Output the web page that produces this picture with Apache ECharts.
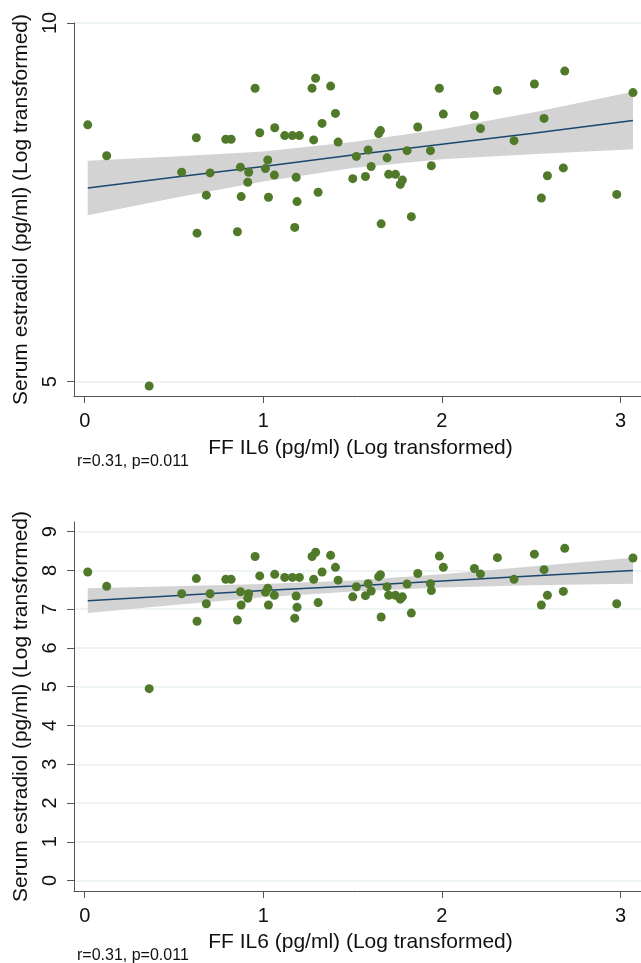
<!DOCTYPE html>
<html>
<head>
<meta charset="utf-8">
<title>Serum estradiol vs FF IL6</title>
<script src="https://cdn.jsdelivr.net/npm/echarts@6/dist/echarts.min.js"></script>
<style>
  html, body { margin: 0; padding: 0; background: #fff; }
  #main { width: 641px; height: 963px; }
</style>
</head>
<body>
<div id="main"></div>
<script>
// FF IL6 (log), same x for both panels
var il6 = [0.017, 0.123, 0.361, 0.543, 0.625, 0.629, 0.681, 0.702, 0.790, 0.820,
  0.855, 0.872, 0.876, 0.913, 0.918, 0.954, 0.980, 1.012, 1.025, 1.029,
  1.062, 1.064, 1.120, 1.163, 1.176, 1.184, 1.189, 1.202, 1.273, 1.282,
  1.293, 1.307, 1.329, 1.377, 1.404, 1.419, 1.501, 1.521, 1.572, 1.587,
  1.604, 1.646, 1.656, 1.660, 1.693, 1.702, 1.740, 1.767, 1.779, 1.805,
  1.829, 1.865, 1.936, 1.941, 1.986, 2.008, 2.182, 2.216, 2.311, 2.404,
  2.518, 2.557, 2.572, 2.591, 2.680, 2.688, 2.979, 3.070];

// serum estradiol as read on the top panel axis (5 - 10)
var estradiolTop = [8.58, 8.15, 4.94, 7.92, 8.40, 7.07, 7.60, 7.91, 8.38, 8.38,
  7.09, 7.99, 7.58, 7.78, 7.92, 9.09, 8.47, 7.97, 8.09, 7.57,
  7.88, 8.54, 8.43, 8.43, 7.15, 7.85, 7.51, 8.43, 9.09, 8.37,
  9.23, 7.64, 8.60, 9.12, 8.74, 8.34, 7.83, 8.14, 7.86, 8.23,
  8.00, 8.46, 8.50, 7.20, 8.12, 7.89, 7.89, 7.75, 7.81, 8.22,
  7.30, 8.55, 8.22, 8.01, 9.09, 8.73, 8.71, 8.53, 9.06, 8.36,
  9.15, 7.56, 8.67, 7.87, 7.98, 9.33, 7.61, 9.03];

// serum estradiol as read on the bottom panel axis (0 - 9)
var estradiolBottom = [7.96, 7.59, 4.95, 7.40, 7.79, 6.69, 7.14, 7.40, 7.77, 7.77,
  6.72, 7.45, 7.11, 7.28, 7.40, 8.36, 7.86, 7.44, 7.54, 7.11,
  7.36, 7.90, 7.82, 7.82, 6.77, 7.34, 7.05, 7.82, 8.36, 7.77,
  8.47, 7.17, 7.96, 8.39, 8.08, 7.75, 7.32, 7.58, 7.35, 7.66,
  7.47, 7.84, 7.89, 6.80, 7.58, 7.36, 7.36, 7.26, 7.32, 7.65,
  6.90, 7.92, 7.66, 7.48, 8.37, 8.08, 8.05, 7.91, 8.33, 7.77,
  8.42, 7.11, 8.02, 7.36, 7.46, 8.57, 7.14, 8.32];

// fitted line and 95% CI
var bandX = [0.017, 0.5, 1.0, 1.5, 2.0, 2.5, 3.07];
var fitTop = [7.70, 7.85, 8.00, 8.16, 8.31, 8.46, 8.64];
var upperTop = [8.08, 8.14, 8.21, 8.34, 8.52, 8.75, 9.04];
var lowerTop = [7.32, 7.56, 7.79, 7.98, 8.10, 8.17, 8.24];
var fitBottom = [7.22, 7.35, 7.48, 7.60, 7.73, 7.86, 8.00];
var upperBottom = [7.54, 7.59, 7.65, 7.74, 7.90, 8.10, 8.33];
var lowerBottom = [6.90, 7.11, 7.31, 7.46, 7.56, 7.62, 7.66];

var xTicks = [0, 1, 2, 3];
var yTicksTop = [5, 10];
var yTicksBottom = [0, 1, 2, 3, 4, 5, 6, 7, 8, 9];
var xTitle = "FF IL6 (pg/ml) (Log transformed)";
var yTitle = "Serum estradiol (pg/ml) (Log transformed)";
var statText = "r=0.31, p=0.011";

var FONT = "Liberation Sans, Arial, Helvetica, sans-serif";
var axisColor = "#555";

function pairs(xs, ys) {
  return xs.map(function (x, i) { return [x, ys[i]]; });
}

function makeXAxis(gridIndex, gap) {
  return {
    type: "value",
    gridIndex: gridIndex,
    min: -0.06,
    max: 3.115,
    name: xTitle,
    nameLocation: "middle",
    nameGap: gap,
    nameTextStyle: { fontFamily: FONT, fontSize: 21, color: "#111", padding: [0, 0, 0, 6] },
    axisLine: { show: true, onZero: false, lineStyle: { color: axisColor, width: 1 } },
    axisTick: { show: true, length: 7, customValues: xTicks, lineStyle: { color: axisColor } },
    axisLabel: { customValues: xTicks, margin: 15, fontFamily: FONT, fontSize: 20, color: "#111" },
    splitLine: { show: false }
  };
}

function makeYAxis(gridIndex, min, max, ticks) {
  return {
    type: "value",
    gridIndex: gridIndex,
    min: min,
    max: max,
    name: yTitle,
    nameLocation: "middle",
    nameGap: 41,
    nameRotate: 90,
    nameTextStyle: { fontFamily: FONT, fontSize: 21, color: "#111" },
    axisLine: { show: true, onZero: false, lineStyle: { color: axisColor, width: 1 } },
    axisTick: { show: true, length: 7, customValues: ticks, lineStyle: { color: axisColor } },
    axisLabel: { customValues: ticks, rotate: 90, margin: 14, fontFamily: FONT, fontSize: 20, color: "#111" },
    splitLine: { show: true, lineStyle: { color: "#e8f0f1", width: 1.5 } }
  };
}

function bandSeries(idx, lower, upper) {
  return {
    type: "custom",
    xAxisIndex: idx,
    yAxisIndex: idx,
    silent: true,
    clip: true,
    z: 1,
    data: [[bandX[0], upper[0]]],
    renderItem: function (params, api) {
      var pts = [];
      for (var i = 0; i < bandX.length; i++) pts.push(api.coord([bandX[i], upper[i]]));
      for (var j = bandX.length - 1; j >= 0; j--) pts.push(api.coord([bandX[j], lower[j]]));
      return { type: "polygon", shape: { points: pts }, style: { fill: "#d3d3d3" } };
    }
  };
}

function fitSeries(idx, fit) {
  return {
    type: "line",
    xAxisIndex: idx,
    yAxisIndex: idx,
    data: pairs(bandX, fit),
    showSymbol: false,
    silent: true,
    z: 2,
    lineStyle: { color: "#1a476f", width: 1.5 }
  };
}

function dotSeries(idx, ys) {
  return {
    type: "scatter",
    xAxisIndex: idx,
    yAxisIndex: idx,
    data: pairs(il6, ys),
    symbolSize: 9,
    z: 3,
    itemStyle: { color: "#507a2a", opacity: 1 }
  };
}

var option = {
  backgroundColor: "#fff",
  animation: false,
  grid: [
    { left: 74, top: 23, width: 567, height: 373 },
    { left: 74, top: 522, width: 567, height: 369 }
  ],
  xAxis: [makeXAxis(0, 42), makeXAxis(1, 41)],
  yAxis: [makeYAxis(0, 4.8, 10, yTicksTop), makeYAxis(1, -0.27, 9.25, yTicksBottom)],
  graphic: [
    { type: "text", left: 77, top: 454, style: { text: statText, font: "16px " + FONT, fill: "#111" } },
    { type: "text", left: 77, top: 948, style: { text: statText, font: "16px " + FONT, fill: "#111" } }
  ],
  series: [
    bandSeries(0, lowerTop, upperTop),
    fitSeries(0, fitTop),
    dotSeries(0, estradiolTop),
    bandSeries(1, lowerBottom, upperBottom),
    fitSeries(1, fitBottom),
    dotSeries(1, estradiolBottom)
  ]
};

var chart = echarts.init(document.getElementById("main"));
chart.setOption(option);
</script>
</body>
</html>
